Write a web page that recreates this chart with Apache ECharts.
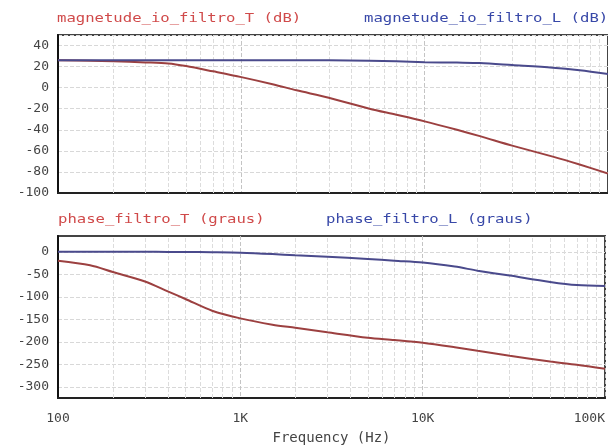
<!DOCTYPE html>
<html>
<head>
<meta charset="utf-8">
<script src="https://cdn.jsdelivr.net/npm/echarts@6/dist/echarts.min.js"></script>
<style>
  html, body { margin: 0; padding: 0; background: #fff; }
  #chart { width: 608px; height: 446px; }
</style>
</head>
<body>
<div id="chart"></div>
<script>
// frequencias (Hz) usadas por todas as curvas
const freqs = [100, 150, 200, 300, 400, 500, 700, 1000, 1500, 2000, 3000, 5000, 7000, 10000, 15000, 20000, 30000, 50000, 70000, 100000]

// magnitude (dB)
const magT = [26, 25.5, 25, 24, 23, 20.5, 15.5, 10, 3, -2.5, -9.5, -20, -25.7, -32, -40, -46, -55, -65.5, -73, -81.5]
const magL = [26, 26, 26, 26, 26, 26, 26, 26, 26, 26, 26, 25.6, 25, 24.2, 23.8, 23.4, 21.5, 19, 16.5, 13]

// fase (graus)
const phaseT = [-20, -30, -45, -66, -88, -105, -131, -148, -162, -169, -179, -191, -196, -202, -212, -220, -231, -244, -251, -260]
const phaseL = [0, 0, 0, 0, -0.5, -0.5, -1, -2, -5, -8, -11, -16, -20, -24, -33, -42, -53, -67, -74, -76]

const freqTickLabels = ['100', '1K', '10K', '100K']
const phaseTicks = [-300, -250, -200, -150, -100, -50, 0]

// linhas de grade menores (2..9 de cada decada)
const minorFreqs = []
for (let d = 100; d < 100000; d *= 10) {
    for (let k = 2; k <= 9; k++) minorFreqs.push(d * k)
}

const RED_TXT = '#d04a4a'
const BLUE_TXT = '#3848a8'
const RED = '#9c4040'
const BLUE = '#4a4a8c'
const MONO = '"DejaVu Sans Mono", monospace'

const pairs = (ys) => freqs.map((f, i) => [f, ys[i]])

const minorGrid = {
    silent: true,
    symbol: 'none',
    z: 1,
    animation: false,
    label: { show: false },
    lineStyle: { color: '#dcdcdc', type: 'dashed', width: 1 },
    data: minorFreqs.map(f => ({ xAxis: f }))
}

const xAxisBase = (gridIndex, showLabels) => ({
    type: 'log',
    logBase: 10,
    gridIndex: gridIndex,
    min: 100,
    max: 100000,
    axisLine: { show: true, onZero: false, lineStyle: { color: '#222', width: 2 } },
    axisTick: { show: false },
    splitLine: { show: true, lineStyle: { color: '#c4c4c4', type: 'dashed' } },
    axisLabel: {
        show: showLabels,
        color: '#444',
        fontFamily: MONO,
        fontSize: 13,
        margin: 14,
        alignMaxLabel: 'right',
        formatter: v => freqTickLabels[Math.round(Math.log10(v)) - 2]
    }
})

const chart = echarts.init(document.getElementById('chart'))

const option = {
    animation: false,
    backgroundColor: '#fff',
    grid: [
        { left: 58, right: -2, top: 35, height: 158, show: true, borderColor: '#444', borderWidth: 2 },
        { left: 58, right: -2, top: 236, height: 167, show: true, borderColor: '#444', borderWidth: 2 }
    ],
    xAxis: [
        xAxisBase(0, false),
        Object.assign(xAxisBase(1, true), {
            name: 'Frequency (Hz)',
            nameLocation: 'middle',
            nameGap: 33,
            nameTextStyle: { color: '#444', fontFamily: MONO, fontSize: 14 }
        })
    ],
    yAxis: [
        {
            type: 'value',
            gridIndex: 0,
            min: -100,
            max: 50,
            interval: 20,
            axisLine: { show: true, lineStyle: { color: '#111', width: 2 } },
            axisTick: { show: false },
            splitLine: { show: true, lineStyle: { color: '#d8d8d8', type: 'dashed' } },
            axisLabel: { color: '#444', fontFamily: MONO, fontSize: 13, margin: 9, showMaxLabel: false }
        },
        {
            type: 'value',
            gridIndex: 1,
            min: -325,
            max: 35,
            axisLine: { show: true, lineStyle: { color: '#111', width: 2 } },
            axisTick: { show: false, customValues: phaseTicks },
            splitLine: { show: true, lineStyle: { color: '#d8d8d8', type: 'dashed' } },
            axisLabel: { color: '#444', fontFamily: MONO, fontSize: 13, margin: 9, customValues: phaseTicks }
        }
    ],
    series: [
        {
            name: 'magnetude_io_filtro_T (dB)',
            type: 'line', xAxisIndex: 0, yAxisIndex: 0,
            data: pairs(magT), showSymbol: false, smooth: 0.3,
            lineStyle: { color: RED, width: 2 }, z: 2,
            markLine: minorGrid
        },
        {
            name: 'magnetude_io_filtro_L (dB)',
            type: 'line', xAxisIndex: 0, yAxisIndex: 0,
            data: pairs(magL), showSymbol: false, smooth: 0.3,
            lineStyle: { color: BLUE, width: 2 }, z: 3
        },
        {
            name: 'phase_filtro_T (graus)',
            type: 'line', xAxisIndex: 1, yAxisIndex: 1,
            data: pairs(phaseT), showSymbol: false, smooth: 0.3,
            lineStyle: { color: RED, width: 2 }, z: 2,
            markLine: minorGrid
        },
        {
            name: 'phase_filtro_L (graus)',
            type: 'line', xAxisIndex: 1, yAxisIndex: 1,
            data: pairs(phaseL), showSymbol: false, smooth: 0.3,
            lineStyle: { color: BLUE, width: 2 }, z: 3
        }
    ],
    // titulos de cada curva (fonte monoespacada esticada como no original)
    graphic: [
        { type: 'text', x: 57, y: 19, scaleX: 1.3, style: { text: 'magnetude_io_filtro_T (dB)', fill: RED_TXT, fontFamily: MONO, fontSize: 12, verticalAlign: 'middle' } },
        { type: 'text', x: 364, y: 19, scaleX: 1.3, style: { text: 'magnetude_io_filtro_L (dB)', fill: BLUE_TXT, fontFamily: MONO, fontSize: 12, verticalAlign: 'middle' } },
        { type: 'text', x: 58, y: 220, scaleX: 1.3, style: { text: 'phase_filtro_T (graus)', fill: RED_TXT, fontFamily: MONO, fontSize: 12, verticalAlign: 'middle' } },
        { type: 'text', x: 326, y: 220, scaleX: 1.3, style: { text: 'phase_filtro_L (graus)', fill: BLUE_TXT, fontFamily: MONO, fontSize: 12, verticalAlign: 'middle' } }
    ]
}

chart.setOption(option)
</script>
</body>
</html>
